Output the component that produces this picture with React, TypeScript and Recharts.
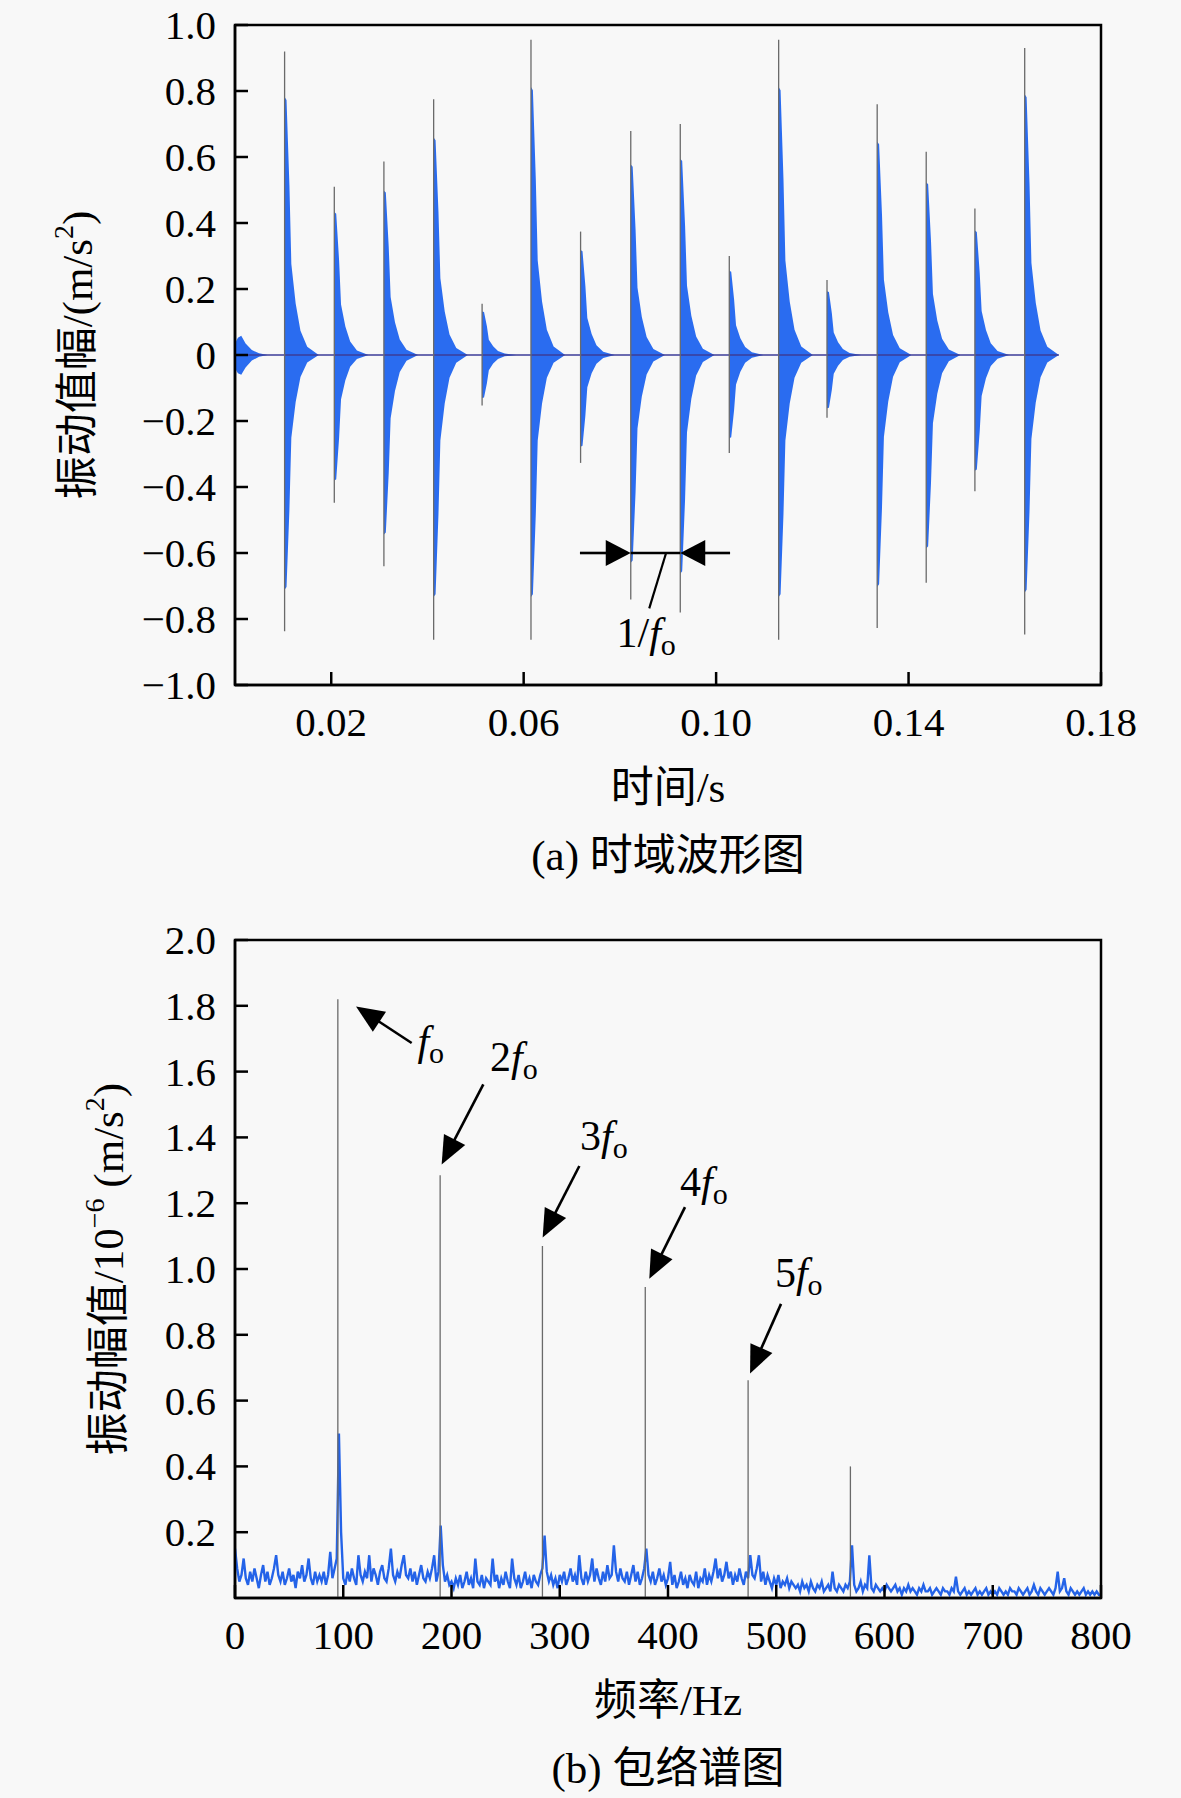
import React from 'react';
import {
  ComposedChart,
  Area,
  Line,
  XAxis,
  YAxis,
  ReferenceLine,
  ReferenceDot,
  ReferenceArea,
} from 'recharts';

// ---------------- fonts / colours ----------------
const SERIF = "'Liberation Serif','Times New Roman','Noto Sans CJK SC',serif";
const BLUE = '#2a6cf0';
const LINE_BLUE = '#2463e8';
const PEAK_GREY = '#6a6a6a';

// ---------------- (a) time-domain waveform ----------------
const timeTicks = [0.02, 0.06, 0.1, 0.14, 0.18];
const ampTicks = [-1, -0.8, -0.6, -0.4, -0.2, 0, 0.2, 0.4, 0.6, 0.8, 1];

// impact times (s) and peak values (m/s^2)
const impulseTimes = [
  0.01031, 0.02064, 0.03095, 0.04129, 0.05136, 0.06152, 0.07183, 0.08226,
  0.09255, 0.10274, 0.113, 0.12305, 0.13348, 0.14367, 0.15379, 0.16414,
];
const impulseTop = [
  0.92, 0.51, 0.586, 0.775, 0.155, 0.955, 0.374, 0.679, 0.7, 0.3, 0.955,
  0.227, 0.76, 0.616, 0.444, 0.93,
];
const impulseBottom = [
  -0.837, -0.448, -0.64, -0.863, -0.153, -0.863, -0.327, -0.741, -0.78,
  -0.297, -0.863, -0.19, -0.827, -0.69, -0.413, -0.847,
];
// envelope of one ringing burst (time after impact, share of peak)
const decayOffsets = [-0.00002, 0, 0.0004, 0.001, 0.0014, 0.0023, 0.0033, 0.0047, 0.0071];
const decayShape = [0, 0.85, 0.84, 0.56, 0.3, 0.17, 0.08, 0.027, 0];
// small burst already ringing at t = 0
const startBurstTimes = [0, 0.0006, 0.0013, 0.0022, 0.0035, 0.005, 0.0068];
const startBurstTop = [0.035, 0.052, 0.058, 0.035, 0.015, 0.005, 0];
const startBurstBottom = [-0.04, -0.055, -0.06, -0.038, -0.017, -0.005, 0];

// ---------------- (b) envelope spectrum ----------------
const freqTicks = [0, 100, 200, 300, 400, 500, 600, 700, 800];
const specTicks = [0.2, 0.4, 0.6, 0.8, 1.0, 1.2, 1.4, 1.6, 1.8, 2.0];
const harmonicFreqs = [95, 189.5, 284, 379, 474, 568.5];
const harmonicAmps = [1.82, 1.285, 1.07, 0.945, 0.662, 0.4];
const noiseStepHz = 2;
const noiseLevels = [
  0.15, 0.09, 0.05, 0.07, 0.12, 0.06, 0.04, 0.08, 0.05, 0.09, 0.06, 0.03, 0.07, 0.1, 0.05, 0.08, 0.04, 0.06, 0.09, 0.13,
  0.07, 0.05, 0.08, 0.04, 0.06, 0.09, 0.05, 0.07, 0.03, 0.08, 0.06, 0.1, 0.05, 0.07, 0.12, 0.06, 0.04, 0.08, 0.05, 0.07,
  0.05, 0.08, 0.04, 0.07, 0.14, 0.06, 0.09, 0.12, 0.5, 0.2, 0.06, 0.04, 0.08, 0.05, 0.09, 0.06, 0.04, 0.13, 0.07, 0.05,
  0.08, 0.06, 0.13, 0.05, 0.09, 0.07, 0.04, 0.08, 0.1, 0.06, 0.05, 0.09, 0.15, 0.07, 0.05, 0.08, 0.06, 0.1, 0.13, 0.07,
  0.06, 0.09, 0.05, 0.08, 0.04, 0.07, 0.1, 0.06, 0.05, 0.08, 0.06, 0.09, 0.13, 0.05, 0.08, 0.22, 0.1, 0.05, 0.07, 0.04,
  0.05, 0.03, 0.06, 0.04, 0.07, 0.03, 0.05, 0.08, 0.04, 0.06, 0.03, 0.12, 0.05, 0.04, 0.07, 0.03, 0.06, 0.05, 0.04, 0.12,
  0.05, 0.07, 0.03, 0.06, 0.04, 0.08, 0.05, 0.03, 0.12, 0.06, 0.04, 0.07, 0.03, 0.05, 0.08, 0.04, 0.06, 0.03, 0.07, 0.05,
  0.04, 0.07, 0.09, 0.19, 0.08, 0.05, 0.07, 0.04, 0.06, 0.03, 0.07, 0.05, 0.08, 0.04, 0.06, 0.09, 0.05, 0.07, 0.04, 0.13,
  0.06, 0.04, 0.08, 0.05, 0.07, 0.12, 0.05, 0.09, 0.06, 0.04, 0.08, 0.05, 0.1, 0.06, 0.07, 0.16, 0.08, 0.05, 0.09, 0.06,
  0.05, 0.08, 0.04, 0.07, 0.1, 0.05, 0.08, 0.04, 0.06, 0.09, 0.15, 0.07, 0.05, 0.08, 0.04, 0.06, 0.09, 0.05, 0.07, 0.04,
  0.06, 0.11, 0.04, 0.07, 0.03, 0.05, 0.08, 0.04, 0.06, 0.03, 0.07, 0.05, 0.04, 0.08, 0.03, 0.06, 0.05, 0.09, 0.04, 0.07,
  0.05, 0.08, 0.12, 0.06, 0.09, 0.05, 0.07, 0.11, 0.06, 0.08, 0.04, 0.07, 0.05, 0.09, 0.06, 0.04, 0.08, 0.06, 0.13, 0.07,
  0.06, 0.09, 0.13, 0.05, 0.08, 0.04, 0.07, 0.05, 0.03, 0.06, 0.04, 0.07, 0.03, 0.05, 0.04, 0.06, 0.03, 0.05, 0.04, 0.03,
  0.04, 0.02, 0.05, 0.03, 0.04, 0.02, 0.05, 0.03, 0.02, 0.04, 0.03, 0.05, 0.02, 0.03, 0.04, 0.02, 0.08, 0.03, 0.02, 0.04,
  0.03, 0.02, 0.04, 0.03, 0.05, 0.16, 0.04, 0.02, 0.03, 0.05, 0.02, 0.04, 0.03, 0.13, 0.03, 0.02, 0.04, 0.03, 0.02, 0.03,
  0.02, 0.04, 0.03, 0.02, 0.03, 0.04, 0.02, 0.03, 0.01, 0.03, 0.02, 0.04, 0.02, 0.03, 0.02, 0.01, 0.03, 0.02, 0.04, 0.02,
  0.02, 0.03, 0.01, 0.02, 0.03, 0.02, 0.01, 0.03, 0.02, 0.02, 0.01, 0.03, 0.02, 0.065, 0.02, 0.01, 0.02, 0.03, 0.01, 0.02,
  0.01, 0.02, 0.03, 0.01, 0.02, 0.01, 0.02, 0.03, 0.01, 0.02, 0.01, 0.02, 0.01, 0.03, 0.02, 0.01, 0.02, 0.01, 0.03, 0.02,
  0.02, 0.01, 0.03, 0.02, 0.01, 0.02, 0.03, 0.01, 0.02, 0.04, 0.02, 0.01, 0.03, 0.02, 0.01, 0.02, 0.03, 0.02, 0.01, 0.03,
  0.08, 0.02, 0.03, 0.06, 0.02, 0.01, 0.03, 0.02, 0.01, 0.02, 0.01, 0.02, 0.03, 0.01, 0.02, 0.01, 0.02, 0.01, 0.02, 0.01,
  0.01,
];

// ---------------- annotations (data coordinates) ----------------
const periodArrow = { y: -0.6, from: 0.0717, to: 0.1029, leader: [[0.0896, -0.6], [0.0861, -0.768]], label: [0.0793, -0.884] };
const harmonicNotes = [
  { prefix: '', tail: [163.2, 1.687], tip: [111.8, 1.798], label: [168.5, 1.651] },
  { prefix: '2', tail: [229.4, 1.561], tip: [190.9, 1.318], label: [235.6, 1.601] },
  { prefix: '3', tail: [318.1, 1.313], tip: [284.2, 1.096], label: [318.7, 1.362] },
  { prefix: '4', tail: [415.7, 1.188], tip: [382.7, 0.97], label: [411.1, 1.222] },
  { prefix: '5', tail: [504.4, 0.894], tip: [475.8, 0.682], label: [498.8, 0.945] },
];

// ---------------- derived tables ----------------
const waveData: { t: number; range: [number, number] }[] = [];
startBurstTimes.forEach((t, i) => waveData.push({ t, range: [startBurstBottom[i], startBurstTop[i]] }));
impulseTimes.forEach((t0, k) => {
  decayOffsets.forEach((o, j) => {
    waveData.push({ t: t0 + o, range: [impulseBottom[k] * decayShape[j], impulseTop[k] * decayShape[j]] });
  });
});
const waveEnd = impulseTimes[impulseTimes.length - 1] + decayOffsets[decayOffsets.length - 1];
const specData = noiseLevels.map((a, i) => ({ f: i * noiseStepHz, a }));

// ---------------- helpers ----------------
const fmtAmp = (v: number) => (Math.abs(v) < 1e-9 ? '0' : (v < 0 ? '\u2212' : '') + Math.abs(v).toFixed(1));
const fmtTime = (v: number) => v.toFixed(2);
const fmtSpec = (v: number) => v.toFixed(1);
const fmtFreq = (v: number) => String(Math.round(v));

const TICK_FONT = 41;
const TICK_LEN = 13;
const Y_GAP = 19;

const XTick = (props: any) => {
  const { x, y, payload, fmt } = props;
  return (
    <g>
      <line x1={x} y1={y} x2={x} y2={y - TICK_LEN} stroke="#000" strokeWidth={2.5} />
      <text x={x} y={y + 37} textAnchor="middle" dominantBaseline="central" fontFamily={SERIF} fontSize={TICK_FONT} fill="#000">
        {fmt(payload.value)}
      </text>
    </g>
  );
};

const YTick = (props: any) => {
  const { x, y, payload, fmt } = props;
  return (
    <g>
      <line x1={x + Y_GAP} y1={y} x2={x + Y_GAP + TICK_LEN} y2={y} stroke="#000" strokeWidth={2.5} />
      <text x={x} y={y} textAnchor="end" dominantBaseline="central" fontFamily={SERIF} fontSize={TICK_FONT} fill="#000">
        {fmt(payload.value)}
      </text>
    </g>
  );
};

const makeArrow = (headLen: number, headHalf: number, width: number) => (p: any) => {
  const { x1, y1, x2, y2 } = p;
  if (![x1, y1, x2, y2].every((v: any) => Number.isFinite(v))) return <g />;
  const dx = x2 - x1;
  const dy = y2 - y1;
  const len = Math.hypot(dx, dy) || 1;
  const ux = dx / len;
  const uy = dy / len;
  const bx = x2 - ux * headLen;
  const by = y2 - uy * headLen;
  const pts = `${x2},${y2} ${bx - uy * headHalf},${by + ux * headHalf} ${bx + uy * headHalf},${by - ux * headHalf}`;
  return (
    <g>
      <line x1={x1} y1={y1} x2={bx + ux * 2} y2={by + uy * 2} stroke="#000" strokeWidth={width} />
      <polygon points={pts} fill="#000" />
    </g>
  );
};
const specArrow = makeArrow(28, 12, 2.6);
const periodArrowShape = makeArrow(25, 13, 2.6);

const fLabel = (prefix: string) => (p: any) => (
  <text x={p.cx} y={p.cy} fontFamily={SERIF} fontSize={42} fill="#000">
    {prefix}
    <tspan fontStyle="italic">f</tspan>
    <tspan fontSize={30} dy={8}>o</tspan>
  </text>
);

// axis titles
const XTitle = (props: any) => {
  const { title, caption } = props;
  const vb = props.viewBox || {};
  const cx = (vb.x ?? 235) + (vb.width ?? 866) / 2;
  const y0 = vb.y ?? 0;
  return (
    <g>
      <text x={cx} y={y0 + 102} textAnchor="middle" dominantBaseline="central" fontFamily={SERIF} fontSize={43} fill="#000">
        {title}
      </text>
      <text x={cx} y={y0 + 170} textAnchor="middle" dominantBaseline="central" fontFamily={SERIF} fontSize={43} fill="#000">
        {caption}
      </text>
    </g>
  );
};

const YTitle = (props: any) => {
  const { kind, cxAbs } = props;
  const vb = props.viewBox || {};
  const cy = (vb.y ?? 0) + (vb.height ?? 0) / 2;
  const common = {
    x: cxAbs,
    y: cy,
    transform: `rotate(-90 ${cxAbs} ${cy})`,
    textAnchor: 'middle' as const,
    dominantBaseline: 'central' as const,
    fontFamily: SERIF,
    fontSize: 43,
    fill: '#000',
  };
  if (kind === 'a') {
    return (
      <text {...common}>
        振动值幅/(m/s<tspan fontSize={28} dy={-14}>2</tspan>
        <tspan dy={14}>)</tspan>
      </text>
    );
  }
  return (
    <text {...common}>
      振动幅值/10<tspan fontSize={28} dy={-14}>{'\u22126'}</tspan>
      <tspan dy={14}> (m/s</tspan>
      <tspan fontSize={28} dy={-14}>2</tspan>
      <tspan dy={14}>)</tspan>
    </text>
  );
};

const axisLine = { stroke: '#000', strokeWidth: 2.5 };

export default function App() {
  return (
    <div style={{ position: 'absolute', left: 0, top: 0, width: 1181, height: 1798, background: '#f8f8f8', overflow: 'hidden' }}>
      {/* (a) time-domain waveform */}
      <div style={{ position: 'absolute', left: 0, top: 0 }}>
        <ComposedChart width={1181} height={900} data={waveData} margin={{ top: 25, right: 80, bottom: 155, left: 175 }}>
          <XAxis
            dataKey="t"
            type="number"
            domain={[0, 0.18]}
            ticks={timeTicks}
            interval={0}
            allowDataOverflow
            height={60}
            tickSize={0}
            tickMargin={0}
            tickLine={false}
            axisLine={axisLine}
            tick={<XTick fmt={fmtTime} />}
            label={<XTitle title="时间/s" caption="(a) 时域波形图" />}
          />
          <YAxis
            type="number"
            domain={[-1, 1]}
            ticks={ampTicks}
            interval={0}
            allowDataOverflow
            width={60}
            tickSize={0}
            tickMargin={Y_GAP}
            tickLine={false}
            axisLine={axisLine}
            tick={<YTick fmt={fmtAmp} />}
            label={<YTitle kind="a" cxAbs={77} />}
          />
          <ReferenceArea x1={0} x2={0.18} y1={-1} y2={1} fill="none" stroke="#000" strokeWidth={2.5} ifOverflow="visible" />
          <ReferenceLine segment={[{ x: 0, y: 0 }, { x: waveEnd, y: 0 }]} stroke="#3c3c98" strokeWidth={1.4} />
          <Area type="linear" dataKey="range" stroke="none" fill={BLUE} fillOpacity={1} isAnimationActive={false} dot={false} activeDot={false} />
          {impulseTimes.map((t, k) => (
            <ReferenceLine
              key={'pk' + k}
              segment={[{ x: t, y: impulseBottom[k] }, { x: t, y: impulseTop[k] }]}
              stroke={PEAK_GREY}
              strokeWidth={1.3}
            />
          ))}
          <ReferenceLine
            segment={[{ x: periodArrow.from, y: periodArrow.y }, { x: impulseTimes[7], y: periodArrow.y }]}
            shape={periodArrowShape}
          />
          <ReferenceLine
            segment={[{ x: periodArrow.to, y: periodArrow.y }, { x: impulseTimes[8], y: periodArrow.y }]}
            shape={periodArrowShape}
          />
          <ReferenceLine
            segment={[{ x: impulseTimes[7], y: periodArrow.y }, { x: impulseTimes[8], y: periodArrow.y }]}
            stroke="#000"
            strokeWidth={2.6}
          />
          <ReferenceLine
            segment={[
              { x: periodArrow.leader[0][0], y: periodArrow.leader[0][1] },
              { x: periodArrow.leader[1][0], y: periodArrow.leader[1][1] },
            ]}
            stroke="#000"
            strokeWidth={2.2}
          />
          <ReferenceDot x={periodArrow.label[0]} y={periodArrow.label[1]} r={0} shape={fLabel('1/')} />
        </ComposedChart>
      </div>

      {/* (b) envelope spectrum */}
      <div style={{ position: 'absolute', left: 0, top: 900 }}>
        <ComposedChart width={1181} height={898} data={specData} margin={{ top: 40, right: 80, bottom: 140, left: 175 }}>
          <XAxis
            dataKey="f"
            type="number"
            domain={[0, 800]}
            ticks={freqTicks}
            interval={0}
            allowDataOverflow
            height={60}
            tickSize={0}
            tickMargin={0}
            tickLine={false}
            axisLine={axisLine}
            tick={<XTick fmt={fmtFreq} />}
            label={<XTitle title="频率/Hz" caption="(b) 包络谱图" />}
          />
          <YAxis
            type="number"
            domain={[0, 2]}
            ticks={specTicks}
            interval={0}
            allowDataOverflow
            width={60}
            tickSize={0}
            tickMargin={Y_GAP}
            tickLine={false}
            axisLine={axisLine}
            tick={<YTick fmt={fmtSpec} />}
            label={<YTitle kind="b" cxAbs={108} />}
          />
          <ReferenceArea x1={0} x2={800} y1={0} y2={2} fill="none" stroke="#000" strokeWidth={2.5} ifOverflow="visible" />
          <Line type="linear" dataKey="a" stroke={LINE_BLUE} strokeWidth={2.4} dot={false} activeDot={false} isAnimationActive={false} />
          {harmonicFreqs.map((f, k) => (
            <ReferenceLine
              key={'h' + k}
              segment={[{ x: f, y: 0 }, { x: f, y: harmonicAmps[k] }]}
              stroke={PEAK_GREY}
              strokeWidth={1.3}
            />
          ))}
          {harmonicNotes.map((n, k) => (
            <ReferenceLine
              key={'ar' + k}
              segment={[{ x: n.tail[0], y: n.tail[1] }, { x: n.tip[0], y: n.tip[1] }]}
              shape={specArrow}
            />
          ))}
          {harmonicNotes.map((n, k) => (
            <ReferenceDot key={'lb' + k} x={n.label[0]} y={n.label[1]} r={0} shape={fLabel(n.prefix)} />
          ))}
        </ComposedChart>
      </div>
    </div>
  );
}
